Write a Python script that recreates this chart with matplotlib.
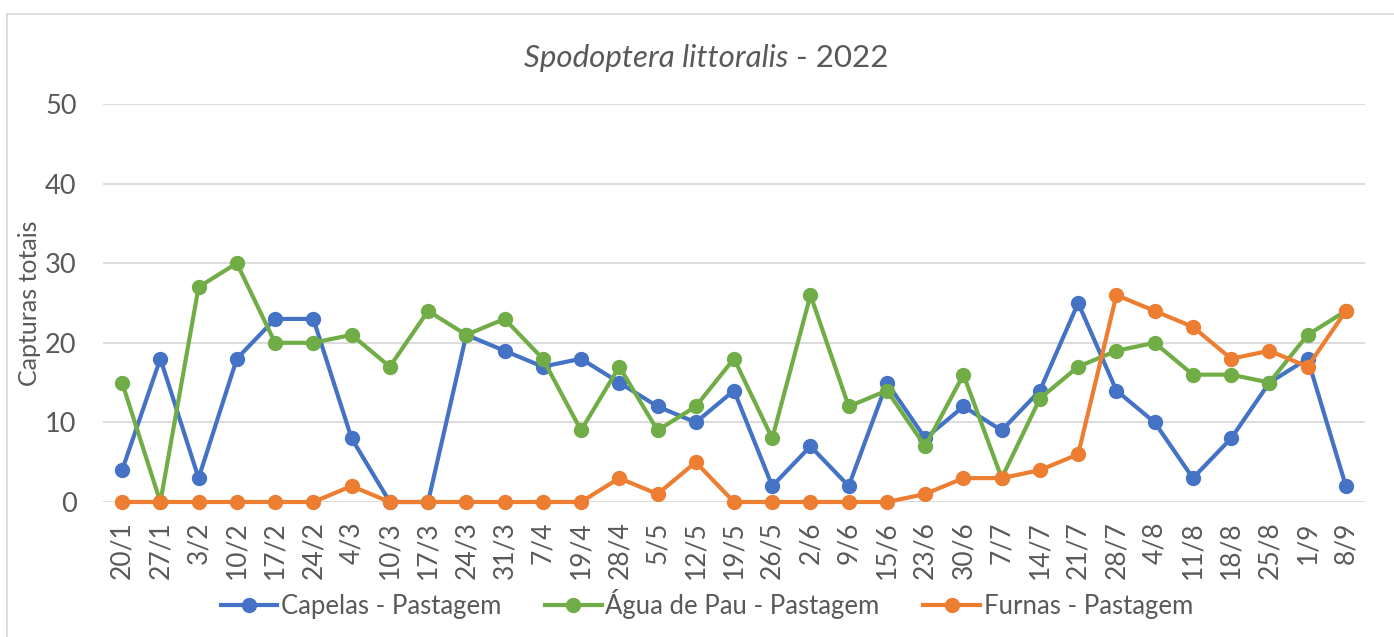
import matplotlib
matplotlib.use("Agg")
import matplotlib.pyplot as plt
from matplotlib.lines import Line2D

categories = ["20/1", "27/1", "3/2", "10/2", "17/2", "24/2", "4/3", "10/3", "17/3",
              "24/3", "31/3", "7/4", "19/4", "28/4", "5/5", "12/5", "19/5", "26/5",
              "2/6", "9/6", "15/6", "23/6", "30/6", "7/7", "14/7", "21/7", "28/7",
              "4/8", "11/8", "18/8", "25/8", "1/9", "8/9"]
capelas = [4, 18, 3, 18, 23, 23, 8, 0, 0, 21, 19, 17, 18, 15, 12, 10, 14, 2,
           7, 2, 15, 8, 12, 9, 14, 25, 14, 10, 3, 8, 15, 18, 2]
agua_de_pau = [15, 0, 27, 30, 20, 20, 21, 17, 24, 21, 23, 18, 9, 17, 9, 12, 18, 8,
               26, 12, 14, 7, 16, 3, 13, 17, 19, 20, 16, 16, 15, 21, 24]
furnas = [0, 0, 0, 0, 0, 0, 2, 0, 0, 0, 0, 0, 0, 3, 1, 5, 0, 0,
          0, 0, 0, 1, 3, 3, 4, 6, 26, 24, 22, 18, 19, 17, 24]
series_names = ["Capelas - Pastagem", "Água de Pau - Pastagem", "Furnas - Pastagem"]
y_ticks = [0, 10, 20, 30, 40, 50]

colors = ["#4472C4", "#70AD47", "#ED7D31"]
txt = "#595959"
FONT = "Lato"

W, H = 1394, 637
fig = plt.figure(figsize=(W / 100, H / 100), dpi=100)
ax = fig.add_axes([103 / W, 1 - 502 / H, (1365 - 103) / W, (502 - 104) / H])

x = list(range(len(categories)))
for vals, c, name in zip([capelas, agua_de_pau, furnas], colors, series_names):
    ax.plot(x, vals, color=c, lw=3.0, marker="o", ms=10, label=name,
            solid_joinstyle="round", clip_on=False, zorder=3)

ax.set_xlim(-0.5, len(categories) - 0.5)
ax.set_ylim(0, 50)
ax.set_yticks(y_ticks)
ax.set_yticklabels([str(v) for v in y_ticks], fontsize=19.5, color=txt, family=FONT)
ax.set_xticks(x)
ax.set_xticklabels(categories, rotation=90, fontsize=19, color=txt, family=FONT,
                   va="top", ha="center")
ax.tick_params(axis="y", length=0, pad=19)
ax.tick_params(axis="x", length=0, pad=14)
ax.grid(axis="y", color="#D9D9D9", lw=1.3, zorder=0)
ax.set_axisbelow(True)
for s in ax.spines.values():
    s.set_visible(False)

ax.set_ylabel("Capturas totais", fontsize=18, color=txt, family=FONT)
ax.yaxis.set_label_coords(-(103 - 41) / (1365 - 103), 0.5)

# Title: italic species name + normal year
t1 = fig.text(522 / W, 1 - 67 / H, "Spodoptera littoralis", fontsize=22.5, style="italic",
              color=txt, family=FONT, ha="left", va="baseline")
fig.canvas.draw()
r = fig.canvas.get_renderer()
bb = t1.get_window_extent(r)
t2 = fig.text(bb.x1 / W, 1 - 67 / H, " - 2022", fontsize=22.5, color=txt, family=FONT,
              ha="left", va="baseline")
bb2 = t2.get_window_extent(r)
total = bb2.x1 - bb.x0
x0 = 706 - total / 2
t1.set_x(x0 / W)
t2.set_x((x0 + (bb.x1 - bb.x0)) / W)

# Chart border (top and left visible)
fig.add_artist(Line2D([7 / W, 7 / W], [0, 1 - 14 / H], transform=fig.transFigure,
                      color="#D9D9D9", lw=1.3))
fig.add_artist(Line2D([7 / W, 1], [1 - 14 / H, 1 - 14 / H], transform=fig.transFigure,
                      color="#D9D9D9", lw=1.3))

handles, labels = ax.get_legend_handles_labels()
leg = fig.legend(handles, labels, loc="center", bbox_to_anchor=(0.507, 1 - 604 / H),
                 ncol=3, frameon=False, handlelength=2.2, handletextpad=0.15,
                 columnspacing=1.7, prop={"family": FONT, "size": 18.5})
for t in leg.get_texts():
    t.set_color(txt)

fig.savefig("out.png", dpi=100, facecolor="white")
